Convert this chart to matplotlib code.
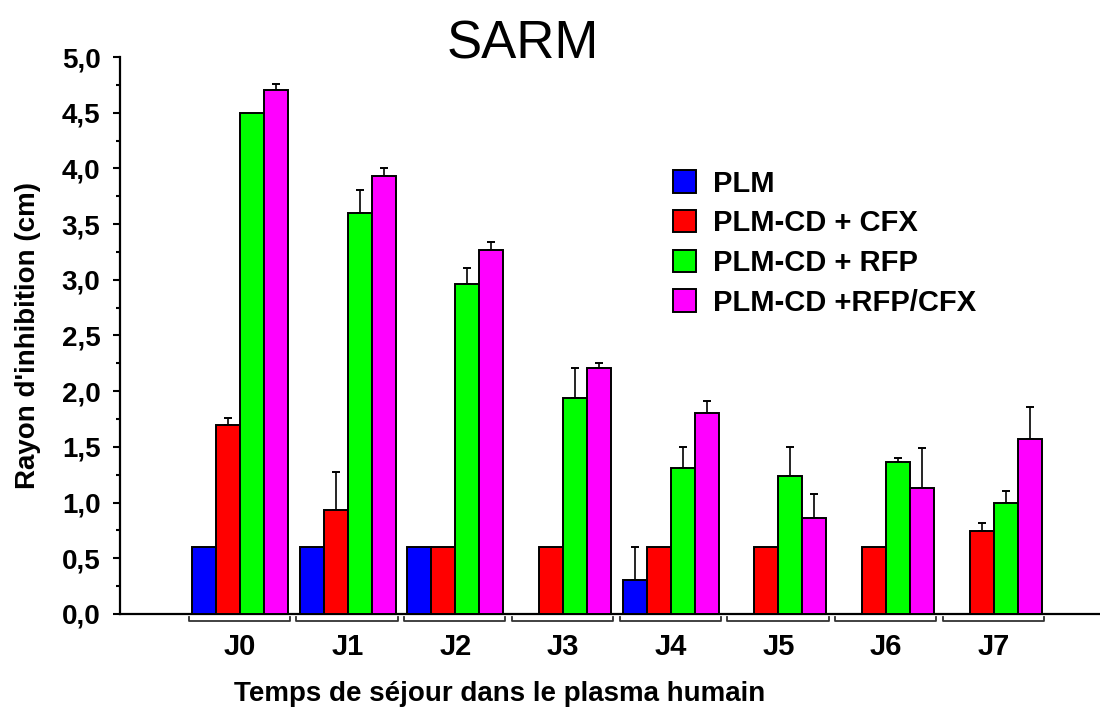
import numpy as np
import matplotlib
matplotlib.use("Agg")
import matplotlib.pyplot as plt
from matplotlib.ticker import MultipleLocator
import matplotlib.transforms as mtransforms

# data
groups = ["J0", "J1", "J2", "J3", "J4", "J5", "J6", "J7"]
series = ["PLM", "PLM-CD + CFX", "PLM-CD + RFP", "PLM-CD +RFP/CFX"]
colors = ["#0000FF", "#FF0000", "#00FF00", "#FF00FF"]

plm = [0.60, 0.60, 0.60, np.nan, 0.30, np.nan, np.nan, np.nan]
plm_err = [0, 0, 0, 0, 0.30, 0, 0, 0]
cfx = [1.70, 0.93, 0.60, 0.60, 0.60, 0.60, 0.60, 0.74]
cfx_err = [0.06, 0.34, 0, 0, 0, 0, 0, 0.08]
rfp = [4.50, 3.60, 2.96, 1.94, 1.31, 1.24, 1.36, 1.00]
rfp_err = [0, 0.21, 0.15, 0.27, 0.19, 0.26, 0.04, 0.10]
rfpcfx = [4.70, 3.93, 3.27, 2.21, 1.80, 0.86, 1.13, 1.57]
rfpcfx_err = [0.06, 0.07, 0.07, 0.04, 0.11, 0.22, 0.36, 0.29]

yticks = [0.0, 0.5, 1.0, 1.5, 2.0, 2.5, 3.0, 3.5, 4.0, 4.5, 5.0]
ytick_labels = ["0,0", "0,5", "1,0", "1,5", "2,0", "2,5", "3,0", "3,5", "4,0", "4,5", "5,0"]

plt.rcParams['font.family'] = ['Liberation Sans', 'DejaVu Sans']

fig = plt.figure(figsize=(11, 7.13), dpi=100)
ax = fig.add_axes([0.109, 0.139, 0.891, 0.781])

x = np.arange(len(groups))
w = 0.2228
values = [plm, cfx, rfp, rfpcfx]
errors = [plm_err, cfx_err, rfp_err, rfpcfx_err]
handles = []
for i, (vals, errs, col, name) in enumerate(zip(values, errors, colors, series)):
    xpos = x + (i - 1.5) * w
    b = ax.bar(xpos, vals, width=w, color=col, edgecolor='black', linewidth=1.4,
               label=name, zorder=3)
    handles.append(b)
    errs = np.array(errs)
    vals = np.array(vals)
    m = errs > 0
    if m.any():
        ax.errorbar(xpos[m], vals[m], yerr=[np.zeros(m.sum()), errs[m]], fmt='none',
                    ecolor='black', elinewidth=1.2, capsize=3, capthick=1.4, zorder=2)

ax.set_xlim(-1.114, 7.985)
ax.set_ylim(0, 5.0)
ax.set_yticks(yticks)
ax.set_yticklabels(ytick_labels, fontsize=20, fontweight='bold')
ax.yaxis.set_minor_locator(MultipleLocator(0.25))
ax.tick_params(axis='y', which='major', length=5, width=1.5, pad=9)
ax.tick_params(axis='y', which='minor', length=3, width=1.5)
ax.set_xticks([])
for s in ['top', 'right']:
    ax.spines[s].set_visible(False)
ax.spines['left'].set_linewidth(1.6)
ax.spines['bottom'].set_linewidth(1.6)

# group brackets and labels under the axis
trans = mtransforms.blended_transform_factory(ax.transData, ax.transAxes)
for xi, g in zip(x, groups):
    x0 = xi - 2 * w - 0.03
    x1 = xi + 2 * w + 0.02
    ax.plot([x0, x0, x1, x1], [-0.005, -0.0125, -0.0125, -0.005], color='#333333',
            lw=1.3, transform=trans, clip_on=False)
    ax.text(xi, -0.06, g, transform=trans, ha='center', va='center',
            fontsize=21, fontweight='bold')

ax.set_ylabel("Rayon d'inhibition (cm)", fontsize=20, fontweight='bold')
ax.yaxis.set_label_coords(-0.08, 0.5)
fig.text(0.4545, 0.008, "Temps de séjour dans le plasma humain", ha='center', va='bottom',
         fontsize=20, fontweight='bold')
fig.text(0.475, 0.938, "SARM", ha='center', va='center', fontsize=38)

ax.legend(handles=handles, loc='upper left', bbox_to_anchor=(658 / 1100, 1 - 155 / 713),
          bbox_transform=fig.transFigure, frameon=False, borderpad=0,
          handlelength=0.8, handleheight=0.8, handletextpad=0.6, labelspacing=0.4,
          prop={'size': 21, 'weight': 'bold'})

fig.savefig("out.png", dpi=100)
